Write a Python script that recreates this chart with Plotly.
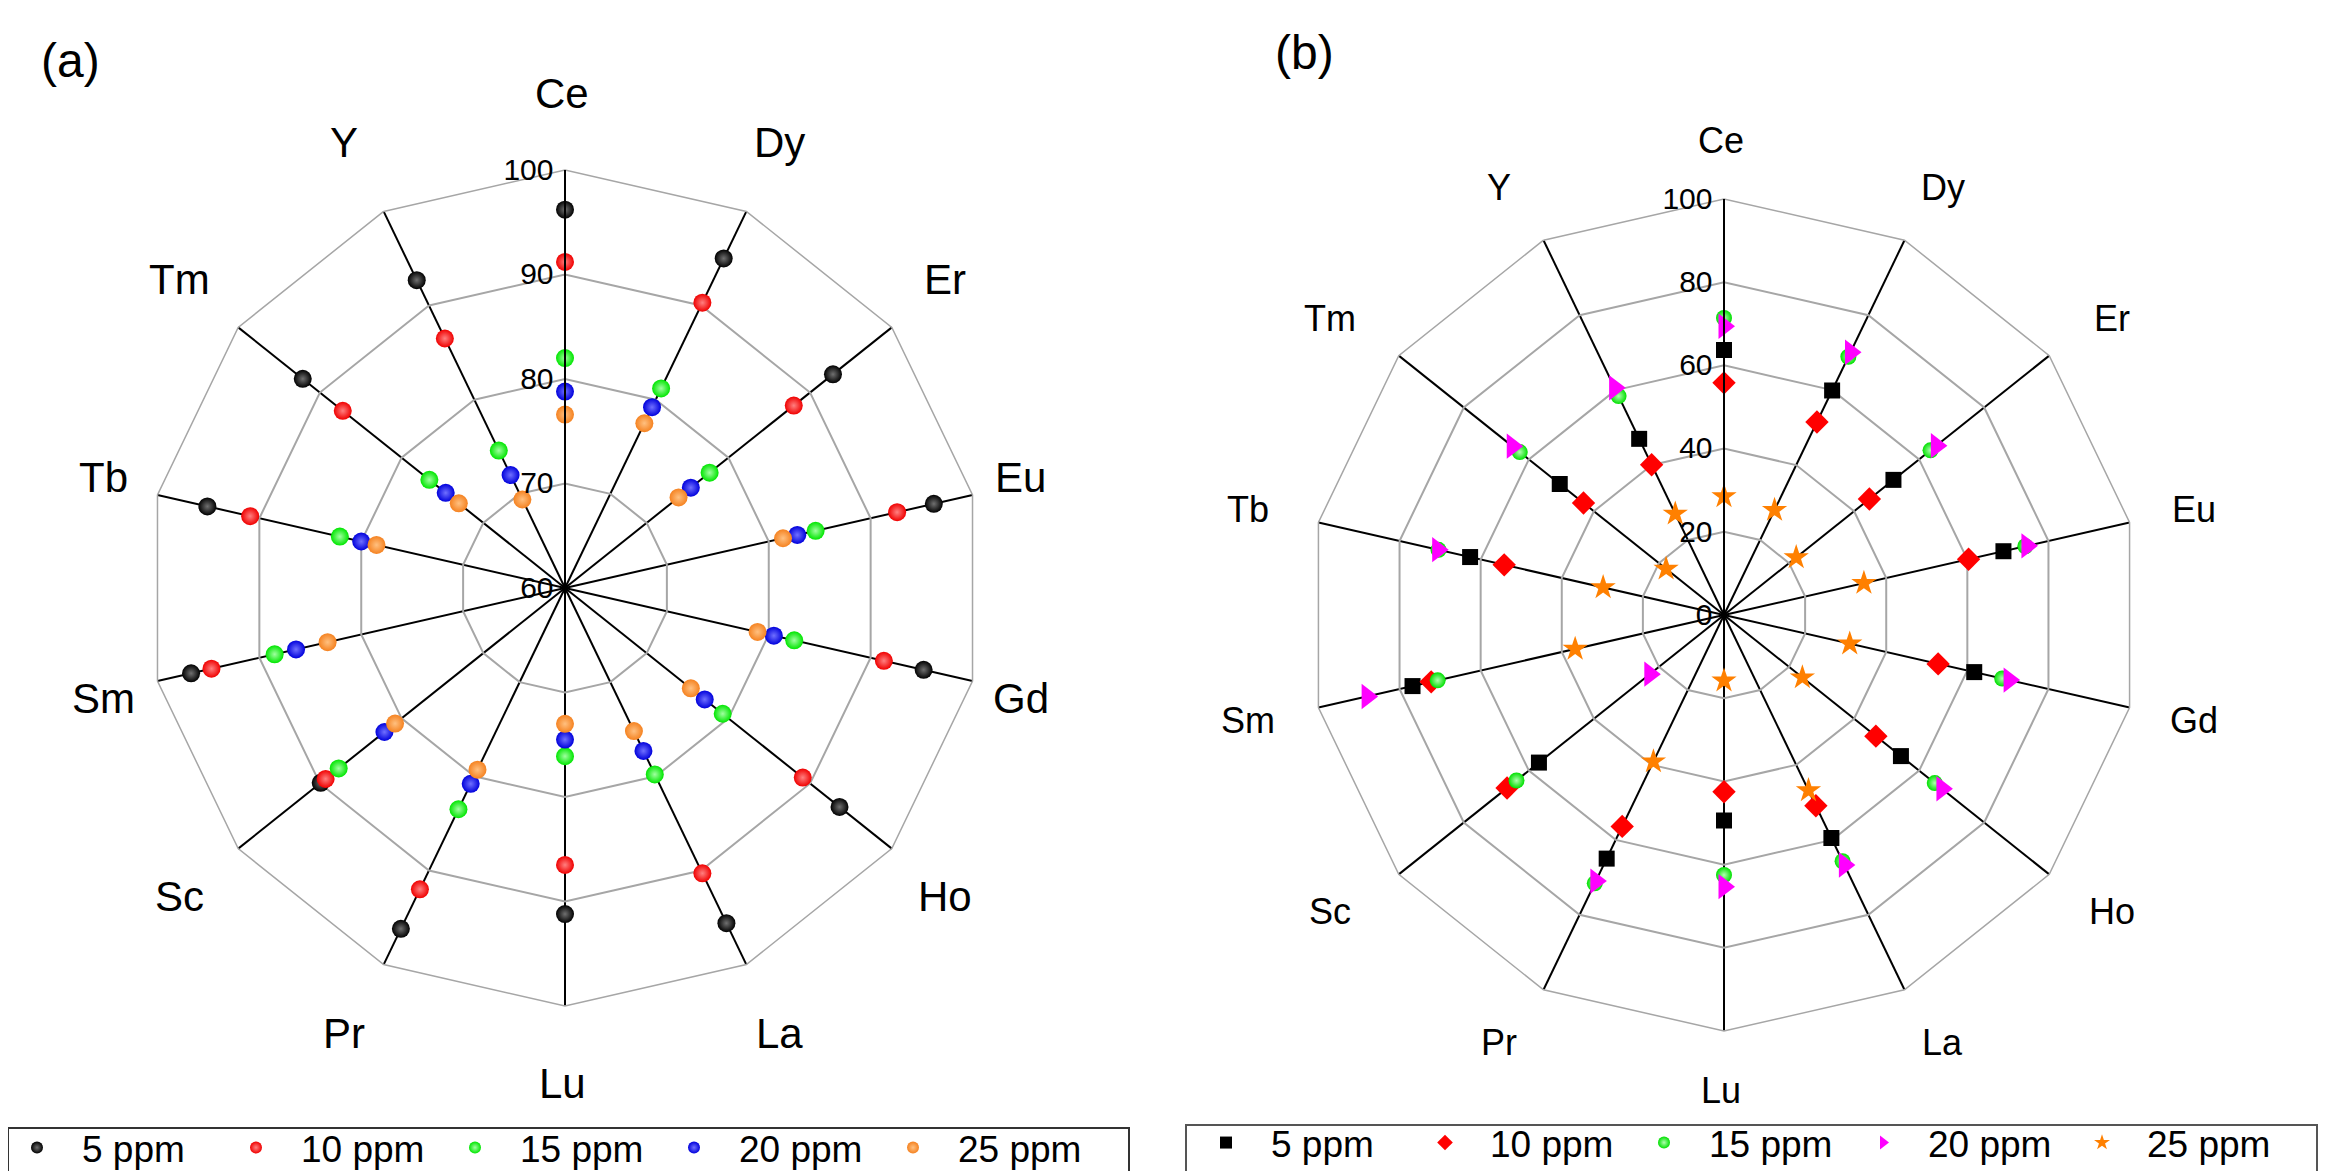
import math
import plotly.graph_objects as go

# ---------------- data ----------------
categories = ["Ce", "Dy", "Er", "Eu", "Gd", "Ho", "La", "Lu", "Pr", "Sc", "Sm", "Tb", "Tm", "Y"]
series_names = ["5 ppm", "10 ppm", "15 ppm", "20 ppm", "25 ppm"]

# panel (a)
a_5ppm  = [96.2, 95.0, 92.8, 96.2, 95.2, 93.6, 95.6, 91.2, 96.2, 89.9, 96.7, 95.1, 92.1, 92.7]
a_10ppm = [91.2, 90.3, 88.0, 92.6, 91.3, 89.1, 90.3, 86.5, 92.0, 89.3, 94.7, 90.9, 87.2, 86.5]
a_15ppm = [82.0, 81.2, 77.7, 84.6, 82.5, 79.3, 79.8, 76.1, 83.5, 87.7, 88.5, 82.1, 76.6, 74.6]
a_20ppm = [78.8, 79.2, 75.4, 82.8, 80.5, 77.1, 77.3, 74.5, 80.8, 82.1, 86.4, 80.0, 74.6, 72.0]
a_25ppm = [76.6, 77.5, 73.9, 81.4, 78.9, 75.4, 75.2, 73.0, 79.3, 80.8, 83.3, 78.5, 73.0, 69.4]

# panel (b)
b_5ppm  = [63.7, 59.9, 52.1, 68.9, 61.7, 54.4, 59.5, 49.4, 65.0, 56.9, 76.8, 62.6, 50.5, 47.0]
b_10ppm = [55.8, 51.5, 44.7, 60.3, 52.8, 46.7, 50.9, 42.5, 56.4, 66.7, 72.2, 54.2, 43.2, 40.1]
b_15ppm = [71.4, 68.9, 63.5, 74.3, 68.6, 64.8, 65.7, 62.5, 71.6, 63.8, 70.6, 70.4, 62.8, 58.4]
b_20ppm = [69.4, 70.1, 65.3, 74.7, 70.3, 67.0, 66.7, 65.3, 71.0, 22.8, 88.0, 70.6, 65.1, 60.6]
b_25ppm = [28.5, 28.0, 22.2, 34.5, 31.0, 24.1, 46.8, 15.8, 39.1, 0.0, 36.7, 29.8, 17.8, 27.0]

ticks_a = [60, 70, 80, 90, 100]
ticks_b = [0, 20, 40, 60, 80, 100]

# ---------------- styling ----------------
W, H = 2348, 1171
FONT = "Arial, Liberation Sans, sans-serif"
GRID = "#a6a6a6"

CA = (557, 580, 418)   # panel (a) centre x, centre y, radius (px)
CB = (1716, 607, 416)  # panel (b)

colors_a = ["#000000", "#f00000", "#00e600", "#0000dc", "#f58220"]
glow_a = ["#707070", "#ff8080", "#a0ffa0", "#7070ff", "#ffc080"]

colors_b = ["#000000", "#ff0000", "#00e000", "#ff00ff", "#ff8000"]
symbols_b = ["square", "diamond", "circle", "triangle-right", "star"]
sizes_b = [16, 18, 16, 22, 19]

fig = go.Figure()

for name, vals, c, g in zip(series_names, [a_5ppm, a_10ppm, a_15ppm, a_20ppm, a_25ppm], colors_a, glow_a):
    fig.add_trace(go.Scatterpolar(
        r=vals, theta=categories, mode="markers", name=name, subplot="polar", legend="legend",
        marker=dict(size=18, color=c, line=dict(width=0), gradient=dict(type="radial", color=g)),
    ))

for i, (name, vals) in enumerate(zip(series_names, [b_5ppm, b_10ppm, b_15ppm, b_20ppm, b_25ppm])):
    mk = dict(size=sizes_b[i], color=colors_b[i], symbol=symbols_b[i], line=dict(width=0))
    if symbols_b[i] == "circle":
        mk["gradient"] = dict(type="radial", color="#b0ffb0")
    fig.add_trace(go.Scatterpolar(
        r=vals, theta=categories, mode="markers", name=name, subplot="polar2", legend="legend2",
        marker=mk,
    ))


def polar_layout(c, rng, tickvals):
    cx, cy, rad = c
    return dict(
        domain=dict(x=[(cx - rad) / W, (cx + rad) / W], y=[1 - (cy + rad) / H, 1 - (cy - rad) / H]),
        bgcolor="white",
        gridshape="linear",
        angularaxis=dict(type="category", categoryarray=categories, rotation=90, direction="clockwise",
                         showticklabels=False, ticks="", showgrid=True, gridcolor="black", gridwidth=2,
                         showline=True, linecolor=GRID, linewidth=1.5),
        radialaxis=dict(range=rng, tickvals=tickvals, angle=90, side="counterclockwise", tickangle=90,
                        showline=True, linecolor="black", linewidth=2, showgrid=True, gridcolor=GRID,
                        gridwidth=1.5, ticks="", tickfont=dict(size=30, color="black", family=FONT)),
    )


# category labels placed around each polygon
# (horizontal label distance grows a little towards the diagonal spokes)
annotations = []
for (cx, cy, _), rh0, rh1, rv, fs in [(CA, 460, 47, 495, 42), (CB, 477, 38, 475, 36)]:
    n = len(categories)
    for i, cat in enumerate(categories):
        ang = math.radians(360.0 * i / n)
        rh = rh0 + rh1 * abs(math.cos(ang))
        x = cx + rh * math.sin(ang) - 3
        y = cy - rv * math.cos(ang)
        annotations.append(dict(text=cat, x=x / W, y=1 - y / H, xref="paper", yref="paper",
                                xanchor="center", yanchor="middle", showarrow=False,
                                font=dict(size=fs, family=FONT, color="black")))

annotations += [
    dict(text="(a)", x=62 / W, y=1 - 52 / H, xref="paper", yref="paper", showarrow=False,
         xanchor="center", yanchor="middle", font=dict(size=48, family=FONT, color="black")),
    dict(text="(b)", x=1296 / W, y=1 - 44 / H, xref="paper", yref="paper", showarrow=False,
         xanchor="center", yanchor="middle", font=dict(size=48, family=FONT, color="black")),
]

shapes = [
    dict(type="rect", xref="paper", yref="paper", x0=0, x1=1121 / W, y0=1 - 1180 / H, y1=1 - 1120 / H,
         line=dict(color="#333333", width=2), fillcolor="rgba(0,0,0,0)"),
    dict(type="rect", xref="paper", yref="paper", x0=1178 / W, x1=2309 / W, y0=1 - 1168 / H, y1=1 - 1117 / H,
         line=dict(color="#555555", width=2), fillcolor="rgba(0,0,0,0)"),
]

legend_common = dict(orientation="h", xanchor="left", yanchor="middle", bgcolor="rgba(0,0,0,0)",
                     borderwidth=0, font=dict(size=37, family=FONT), itemwidth=80, entrywidth=124,
                     entrywidthmode="pixels", itemsizing="constant")

fig.update_layout(
    width=W, height=H,
    margin=dict(l=0, r=0, t=0, b=0, autoexpand=False),
    paper_bgcolor="white",
    font=dict(family=FONT, color="black"),
    polar=polar_layout(CA, [60, 100], ticks_a),
    polar2=polar_layout(CB, [0, 100], ticks_b),
    legend=dict(x=-16 / W, y=1 - 1140 / H, **legend_common),
    legend2=dict(x=1173 / W, y=1 - 1135 / H, **legend_common),
    annotations=annotations,
    shapes=shapes,
)

fig.write_html("out.html")
